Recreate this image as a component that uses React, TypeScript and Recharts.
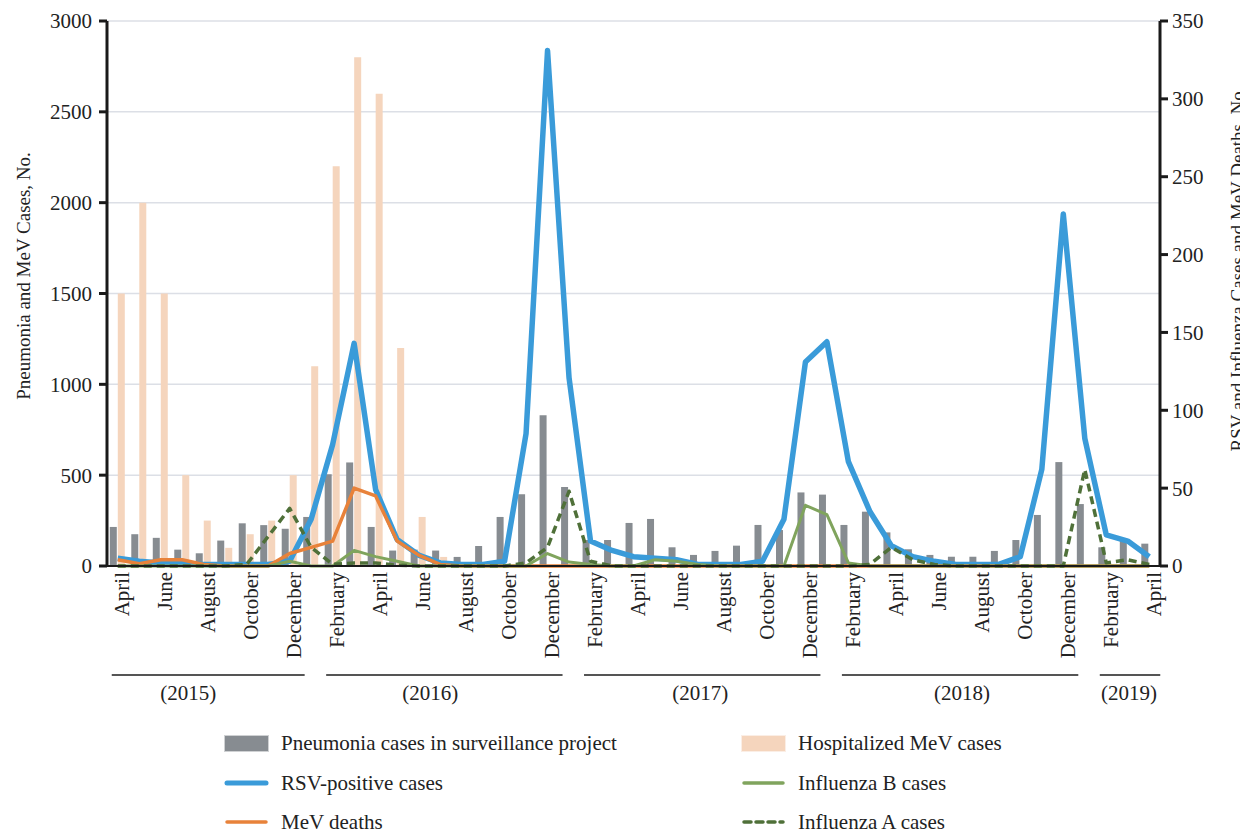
import React from 'react'
import { ComposedChart, Bar, Line, XAxis, YAxis, CartesianGrid } from 'recharts'

const FONT = '"Liberation Serif", "DejaVu Serif", serif'

const monthNames = ['January', 'February', 'March', 'April', 'May', 'June', 'July', 'August', 'September', 'October', 'November', 'December']
// April 2015 .. April 2019
const months = [...monthNames.slice(3), ...monthNames, ...monthNames, ...monthNames, ...monthNames.slice(0, 4)]
const yearLabels = ['(2015)', '(2016)', '(2017)', '(2018)', '(2019)']
const yearStart = [0, 9, 21, 33, 45]

const pneumonia = [215, 175, 155, 90, 70, 140, 235, 225, 205, 270, 505, 570, 215, 85, 90, 85, 50, 110, 270, 395, 830, 435, 143, 143, 237, 259, 103, 61, 83, 112, 226, 198, 405, 393, 226, 299, 185, 92, 61, 51, 51, 83, 143, 281, 572, 341, 103, 143, 123]
const mevHospitalized = [1500, 2000, 1500, 500, 250, 100, 175, 250, 500, 1100, 2200, 2800, 2600, 1200, 270, 50, 0, 0, 0, 0, 0, 0, 0, 0, 0, 0, 0, 0, 0, 0, 0, 0, 0, 0, 0, 0, 0, 0, 0, 0, 0, 0, 0, 0, 0, 0, 0, 0, 0]
const rsv = [5, 3, 2, 1.5, 1, 1, 1, 1, 3, 30, 78, 143, 49, 17, 7, 2, 1, 1, 3, 85, 331, 121, 16, 10, 6, 5, 4, 1, 1, 1, 3, 30, 131, 144, 67, 35, 13, 6, 3, 1, 1, 1, 6, 62, 226, 82, 20, 16, 6]
const mevDeaths = [4, 1.5, 4, 4, 1, 0, 0, 0, 8, 12, 16, 50, 45, 16, 7, 1, 0, 0, 0, 0, 0, 0, 0, 0, 0, 0, 0, 0, 0, 0, 0, 0, 0, 0, 0, 0, 0, 0, 0, 0, 0, 0, 0, 0, 0, 0, 0, 0, 0]
const fluB = [0, 0, 0, 0, 0, 0, 0, 0, 3, 0, 0, 10, 6, 3, 0, 0, 0, 0, 0, 0, 8, 2.5, 1, 0, 0, 4, 3, 1, 0, 0, 0, 0, 39, 33, 2, 0, 0, 0, 0, 0, 0, 0, 0, 0, 0, 0, 0, 0, 0]
const fluA = [0, 0, 0, 0, 0, 0, 1, 19, 37, 12, 1, 2, 2, 0.5, 0, 0, 0, 0, 0, 2, 12, 48, 3, 0, 0, 0, 0, 0, 0, 0, 0, 0, 0, 0, 0, 1, 12, 4, 1, 0, 0, 0, 0, 0, 0, 62, 2, 4, 1]

const leftTicks = [0, 500, 1000, 1500, 2000, 2500, 3000]
const rightTicks = [0, 50, 100, 150, 200, 250, 300, 350]

const seriesNames = {
  pneumonia: 'Pneumonia cases in surveillance project',
  mev: 'Hospitalized MeV cases',
  rsv: 'RSV-positive cases',
  fluB: 'Influenza B cases',
  deaths: 'MeV deaths',
  fluA: 'Influenza A cases',
}

const colors = {
  pneumonia: '#878c91',
  mev: '#f5d5bd',
  rsv: '#3a9bd9',
  deaths: '#e8823a',
  fluB: '#80a45d',
  fluA: '#4f7039',
}

const data = months.map((m, i) => ({
  key: i,
  month: m,
  pneumonia: pneumonia[i],
  mev: mevHospitalized[i],
  rsv: rsv[i],
  deaths: mevDeaths[i],
  fluB: fluB[i],
  fluA: fluA[i],
}))

const W = 1240
const H = 710
const LEFT_W = 99
const RIGHT_W = 88
const band = (W - LEFT_W - RIGHT_W) / months.length
// the year captions in the figure sit a little left of their brackets for the first two years
const yearLabelShift = [-20, -14, -2, 2, -1]

function MonthTick(props: any) {
  const { x, y } = props
  const i = props.index ?? props.payload?.index ?? 0
  const out: any[] = []
  if (i % 2 === 0) {
    const tx = x + 4
    const ty = y + 6
    out.push(
      <text key="m" x={tx} y={ty} transform={`rotate(-90 ${tx} ${ty})`} textAnchor="end" dy="0.35em"
        fontSize={21} fill="#222" fontFamily={FONT}>{months[i]}</text>
    )
  }
  const g = yearStart.indexOf(i)
  if (g >= 0) {
    const last = (g + 1 < yearStart.length ? yearStart[g + 1] : months.length) - 1
    const x0 = g === 0 ? x - 6 : x + 15
    const x1 = x + (last - i) * band + (g === yearStart.length - 1 ? 11 : 15)
    out.push(<line key="l" x1={x0} x2={x1} y1={y + 109} y2={y + 109} stroke="#555" strokeWidth={2} />)
    out.push(
      <text key="y" x={(x0 + x1) / 2 + yearLabelShift[g]} y={y + 127} textAnchor="middle" dominantBaseline="central"
        fontSize={21} fill="#222" fontFamily={FONT}>{yearLabels[g]}</text>
    )
  }
  return <g>{out}</g>
}

function AxisTitle(props: any) {
  const { side, text } = props
  const x = side === 'left' ? 15 : 1229
  const y = side === 'left' ? 268 : 261
  return (
    <text x={x} y={y} transform={`rotate(-90 ${x} ${y})`} textAnchor="middle" dominantBaseline="central"
      fontSize={19} fill="#222" fontFamily={FONT}>{text}</text>
  )
}

function Swatch({ kind, color }: { kind: string; color: string }) {
  if (kind === 'bar') {
    return <div style={{ width: 45, height: 17, background: color, border: '1px solid rgba(255,255,255,0.6)', boxSizing: 'border-box' }} />
  }
  return (
    <svg width={45} height={10} style={{ display: 'block' }}>
      <line x1={3} x2={42} y1={5} y2={5} stroke={color} strokeWidth={kind === 'thick' ? 5 : 3.5}
        strokeLinecap="round" strokeDasharray={kind === 'dash' ? '7 5' : undefined} />
    </svg>
  )
}

const legendItems = [
  { key: 'pneumonia', kind: 'bar', col: 0, row: 0 },
  { key: 'mev', kind: 'bar', col: 1, row: 0 },
  { key: 'rsv', kind: 'thick', col: 0, row: 1 },
  { key: 'fluB', kind: 'line', col: 1, row: 1 },
  { key: 'deaths', kind: 'line', col: 0, row: 2 },
  { key: 'fluA', kind: 'dash', col: 1, row: 2 },
]

export default function App() {
  return (
    <div style={{ position: 'relative', width: W, height: 826, fontFamily: FONT }}>
      <style>{'html, body { overflow: hidden; }'}</style>
      <ComposedChart width={W} height={H} data={data} margin={{ top: 13, right: 0, left: 0, bottom: 0 }}
        barCategoryGap="13%" barGap={1}>
        <CartesianGrid yAxisId="left" vertical={false} stroke="#dcdfe6" strokeWidth={1.5} />
        <XAxis dataKey="key" height={152} interval={0} tickLine={false} tickSize={0} tickMargin={0}
          axisLine={{ stroke: '#1a1a1a', strokeWidth: 2 }} tick={<MonthTick />} />
        <YAxis yAxisId="left" width={LEFT_W} domain={[0, 3000]} ticks={leftTicks} tickSize={8} tickMargin={7}
          axisLine={{ stroke: '#1a1a1a', strokeWidth: 3 }} tickLine={{ stroke: '#1a1a1a', strokeWidth: 3 }}
          tick={{ fontSize: 21, fill: '#222', fontFamily: FONT }}
          label={<AxisTitle side="left" text="Pneumonia and MeV Cases, No." />} />
        <YAxis yAxisId="right" orientation="right" width={RIGHT_W} domain={[0, 350]} ticks={rightTicks} tickSize={8} tickMargin={4}
          axisLine={{ stroke: '#1a1a1a', strokeWidth: 3 }} tickLine={{ stroke: '#1a1a1a', strokeWidth: 3 }}
          tick={{ fontSize: 21, fill: '#222', fontFamily: FONT, textAnchor: 'start' }}
          label={<AxisTitle side="right" text="RSV and Influenza Cases and MeV Deaths, No." />} />
        <Bar yAxisId="left" dataKey="pneumonia" fill={colors.pneumonia} isAnimationActive={false} />
        <Bar yAxisId="left" dataKey="mev" fill={colors.mev} isAnimationActive={false} />
        <Line yAxisId="right" type="linear" dataKey="rsv" stroke={colors.rsv} strokeWidth={5.5} dot={false} strokeLinejoin="round" isAnimationActive={false} />
        <Line yAxisId="right" type="linear" dataKey="deaths" stroke={colors.deaths} strokeWidth={3.5} dot={false} strokeLinejoin="round" isAnimationActive={false} />
        <Line yAxisId="right" type="linear" dataKey="fluB" stroke={colors.fluB} strokeWidth={3} dot={false} strokeLinejoin="round" isAnimationActive={false} />
        <Line yAxisId="right" type="linear" dataKey="fluA" stroke={colors.fluA} strokeWidth={3.5} strokeDasharray="8 5" dot={false} strokeLinejoin="round" isAnimationActive={false} />
      </ComposedChart>
      {legendItems.map((it) => (
        <div key={it.key} style={{
          position: 'absolute', left: it.col === 0 ? 216 : 733, top: 735 + it.row * 39.5 - 11, height: 22,
          display: 'flex', alignItems: 'center', whiteSpace: 'nowrap', lineHeight: '22px',
        }}>
          <Swatch kind={it.kind} color={(colors as any)[it.key]} />
          <span style={{ marginLeft: 12, fontSize: 21, color: '#222' }}>{(seriesNames as any)[it.key]}</span>
        </div>
      ))}
    </div>
  )
}
